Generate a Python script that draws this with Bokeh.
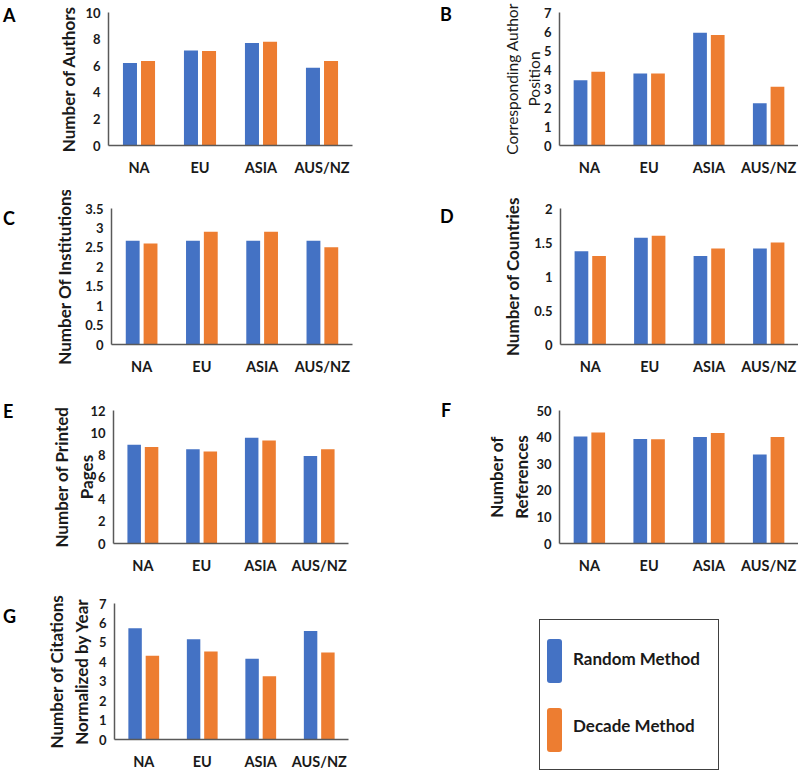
from bokeh.plotting import figure
from bokeh.models import FactorRange, Range1d, FixedTicker, ColumnDataSource, Div
from bokeh.layouts import column, row
from bokeh.transform import dodge
from bokeh.embed import file_html
from bokeh.resources import INLINE

# ---------------- data ----------------
regions = ["NA", "EU", "ASIA", "AUS/NZ"]
series = ["Random Method", "Decade Method"]

authors_random = [6.2, 7.15, 7.7, 5.85]
authors_decade = [6.35, 7.1, 7.8, 6.35]

corr_random = [3.43, 3.79, 5.93, 2.23]
corr_decade = [3.88, 3.79, 5.82, 3.09]

inst_random = [2.67, 2.67, 2.67, 2.67]
inst_decade = [2.6, 2.9, 2.9, 2.5]

countries_random = [1.37, 1.57, 1.30, 1.41]
countries_decade = [1.30, 1.60, 1.41, 1.50]

pages_random = [8.9, 8.5, 9.55, 7.9]
pages_decade = [8.7, 8.3, 9.3, 8.5]

refs_random = [40.2, 39.3, 40.0, 33.5]
refs_decade = [41.7, 39.2, 41.5, 40.0]

cit_random = [5.72, 5.16, 4.16, 5.58]
cit_decade = [4.31, 4.53, 3.26, 4.48]

ticks_A = [0, 2, 4, 6, 8, 10]
labels_A = ["0", "2", "4", "6", "8", "10"]
ticks_B = [0, 1, 2, 3, 4, 5, 6, 7]
labels_B = ["0", "1", "2", "3", "4", "5", "6", "7"]
ticks_C = [0, 0.5, 1, 1.5, 2, 2.5, 3, 3.5]
labels_C = ["0", "0.5", "1", "1.5", "2", "2.5", "3", "3.5"]
ticks_D = [0, 0.5, 1, 1.5, 2]
labels_D = ["0", "0.5", "1", "1.5", "2"]
ticks_E = [0, 2, 4, 6, 8, 10, 12]
labels_E = ["0", "2", "4", "6", "8", "10", "12"]
ticks_F = [0, 10, 20, 30, 40, 50]
labels_F = ["0", "10", "20", "30", "40", "50"]
ticks_G = [0, 1, 2, 3, 4, 5, 6, 7]
labels_G = ["0", "1", "2", "3", "4", "5", "6", "7"]

# ---------------- style ----------------
BLUE = "#4472C4"
ORANGE = "#ED7D31"
COLORS = [BLUE, ORANGE]
AXIS = "#595959"
TXT = "#1a1a1a"
FONT = "Lato"


def letter_div(letter, width, height, pad_top, pad_left):
    html = ('<div style="padding-top:%dpx;padding-left:%dpx;font-family:Lato;'
            'font-size:18px;font-weight:bold;line-height:1.2;color:#000;">%s</div>'
            % (pad_top, pad_left, letter))
    return Div(text=html, width=width, height=height, margin=0)


def legend_div(width, height):
    items = ""
    for i, (name, color) in enumerate(zip(series, COLORS)):
        sw_top = 19 + 69 * i
        txt_top = 28 + 67 * i
        items += ('<div style="position:absolute;left:7px;top:%dpx;width:15px;'
                  'height:44px;background:%s;border-radius:3px;"></div>'
                  % (sw_top, color))
        items += ('<div style="position:absolute;left:33px;top:%dpx;height:22px;'
                  'line-height:22px;font-family:Lato;font-size:17px;font-weight:bold;'
                  'color:%s;white-space:nowrap;">%s</div>' % (txt_top, TXT, name))
    html = ('<div style="position:relative;width:%dpx;height:%dpx;">'
            '<div style="position:absolute;left:139px;top:37px;width:180px;height:151px;'
            'box-sizing:border-box;border:1.5px solid #404040;background:white;">%s'
            '</div></div>' % (width, height, items))
    return Div(text=html, width=width, height=height, margin=0)


def panel(title, title_bold, title_size, label_standoff, rnd, dec, ticks, tlabels,
          ymax, width, height, bl, br, bt, bb):
    p = figure(x_range=FactorRange(*regions), y_range=Range1d(0, ymax),
               width=width, height=height, output_backend="svg",
               toolbar_location=None, min_border_left=bl, min_border_right=br,
               min_border_top=bt, min_border_bottom=bb)
    src = ColumnDataSource(dict(region=regions, rnd=rnd, dec=dec))
    p.vbar(x=dodge("region", -0.148, range=p.x_range), top="rnd", width=0.23,
           source=src, fill_color=BLUE, line_color=None)
    p.vbar(x=dodge("region", 0.148, range=p.x_range), top="dec", width=0.23,
           source=src, fill_color=ORANGE, line_color=None)
    p.grid.visible = False
    p.outline_line_color = None

    for ax in (p.xaxis[0], p.yaxis[0]):
        ax.axis_line_color = AXIS
        ax.axis_line_width = 1.5
        ax.major_tick_line_color = None
        ax.minor_tick_line_color = None
        ax.major_tick_out = 0
        ax.major_tick_in = 0
        ax.major_label_text_font = FONT
        ax.major_label_text_font_style = "bold"
        ax.major_label_text_color = TXT

    p.xaxis.major_label_text_font_size = "14.5px"
    p.xaxis.major_label_standoff = 13
    p.yaxis.major_label_text_font_size = "13px"
    p.yaxis.major_label_standoff = 8
    p.yaxis.ticker = FixedTicker(ticks=ticks)
    p.yaxis.major_label_overrides = dict(zip(ticks, tlabels))

    p.yaxis.axis_label = title
    p.yaxis.axis_label_text_font = FONT
    p.yaxis.axis_label_text_font_size = title_size
    p.yaxis.axis_label_text_font_style = "bold" if title_bold else "normal"
    p.yaxis.axis_label_text_color = TXT
    p.yaxis.axis_label_standoff = label_standoff
    return p


pA = panel("Number of Authors", True, "17px", 3, authors_random, authors_decade,
           ticks_A, labels_A, 10, 380, 190, 88, 48, 5, 45)
pB = panel("Corresponding Author\nPosition", False, "15.5px", -2, corr_random,
           corr_decade, ticks_B, labels_B, 7, 342, 190, 103, 0, 12, 42)
pC = panel("Number Of Institutions", True, "17px", 7, inst_random, inst_decade,
           ticks_C, labels_C, 3.5, 380, 196, 91, 48, 15, 42)
pD = panel("Number of Countries", True, "17px", 8, countries_random,
           countries_decade, ticks_D, labels_D, 2, 342, 196, 104, 0, 18, 38)
pE = panel("Number of Printed\nPages", True, "17px", -10, pages_random,
           pages_decade, ticks_E, labels_E, 12, 380, 196, 93, 52, 21, 39)
pF = panel("Number of\nReferences", True, "17px", 1, refs_random, refs_decade,
           ticks_F, labels_F, 50, 342, 196, 103, 0, 24, 35)
pG = panel("Number of Citations\nNormalized by Year", True, "17px", 4,
           cit_random, cit_decade, ticks_G, labels_G, 7,
           380, 190, 94, 52, 21, 31)

layout = column(
    row(letter_div("A", 20, 190, 5, 3), pA, letter_div("B", 56, 190, 4, 40), pB),
    row(letter_div("C", 20, 196, 18, 3), pC, letter_div("D", 56, 196, 16, 40), pD),
    row(letter_div("E", 20, 196, 15, 3), pE, letter_div("F", 56, 196, 14, 41), pF),
    row(letter_div("G", 20, 190, 24, 3), pG, legend_div(398, 190)),
)

open("out.html", "w").write(file_html(layout, INLINE))
